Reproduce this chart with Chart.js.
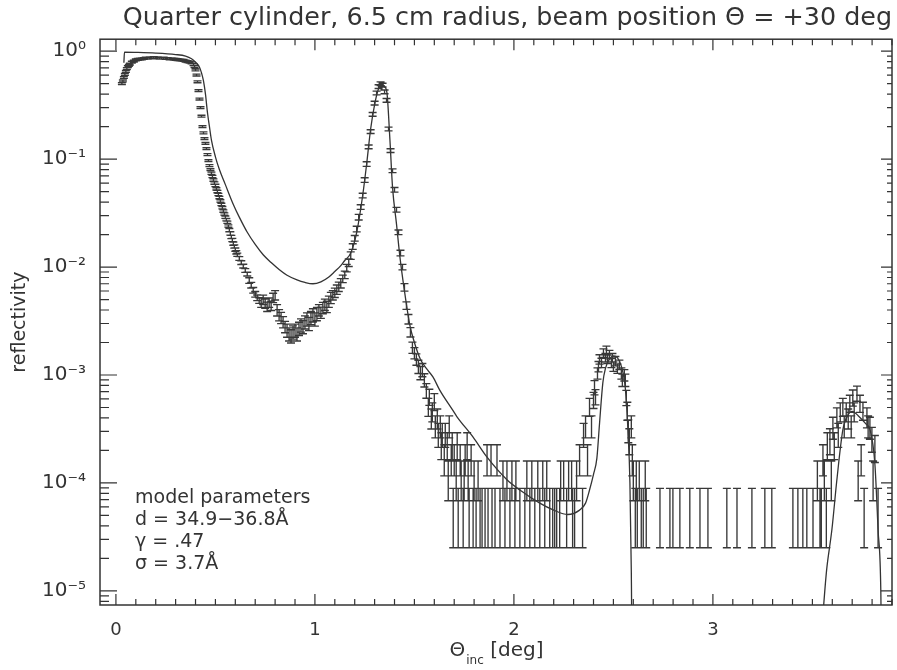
<!DOCTYPE html>
<html><head><meta charset="utf-8">
<style>html,body{margin:0;padding:0;background:#fff;}#wrap{width:897px;height:670px;}</style>
<script src="https://cdn.jsdelivr.net/npm/chart.js@4.4.0/dist/chart.umd.min.js"></script>
</head><body><div id="wrap"><canvas id="c" width="897" height="670"></canvas></div>
<script>
// ---- measured data (incidence angle in deg, reflectivity, relative error) ----
const thetaData = [
 // plateau
 0.030,0.035,0.040,0.045,0.050,0.055,0.060,0.065,0.070,0.080,
 0.090,0.100,0.110,0.120,0.130,0.140,0.150,0.160,0.170,0.180,
 0.190,0.200,0.210,0.220,0.230,0.240,0.250,0.260,0.270,0.280,
 0.290,0.300,0.310,0.320,0.330,0.340,0.350,0.360,0.370,0.380,
 0.390,0.395,
 // fall
 0.400,0.405,0.410,0.415,0.420,0.425,0.430,0.435,0.440,0.445,
 0.450,0.455,0.460,0.465,0.470,0.475,0.480,0.485,0.490,0.495,
 0.500,0.505,0.510,0.515,0.520,0.525,0.530,0.535,0.540,0.545,
 0.550,0.555,0.560,0.565,0.570,0.575,0.580,0.585,0.590,0.595,
 0.600,0.605,0.610,
 // minimum and first Bragg peak
 0.62,0.63,0.64,0.65,0.66,0.67,0.68,0.69,0.70,0.71,
 0.72,0.73,0.74,0.75,0.76,0.77,0.78,0.79,0.80,0.81,
 0.82,0.83,0.84,0.85,0.86,0.87,0.88,0.89,0.90,0.91,
 0.92,0.93,0.94,0.95,0.96,0.97,0.98,0.99,1.00,1.01,
 1.02,1.03,1.04,1.05,1.06,1.07,1.08,1.09,1.10,1.11,
 1.12,1.13,1.14,1.15,1.16,1.17,1.18,1.19,1.20,1.21,
 1.22,1.23,1.24,1.25,1.26,1.27,1.28,1.29,1.30,1.31,
 1.32,1.33,1.34,1.35,1.36,1.37,1.38,1.39,1.40,1.41,
 1.42,1.43,1.44,1.45,1.46,1.47,1.48,1.49,1.50,1.51,
 1.52,1.53,1.54,1.55,
 // tail and second peak
 1.560,1.570,1.575,1.585,1.590,1.600,1.605,1.615,1.620,1.630,
 1.635,1.640,1.650,1.655,1.665,1.670,1.675,1.685,1.690,1.695,
 1.700,1.710,1.715,1.720,1.730,1.735,1.745,1.750,1.755,1.765,
 1.770,1.775,1.785,1.795,1.800,1.810,1.820,1.830,1.840,1.855,
 1.865,1.870,1.885,1.890,1.905,1.915,1.930,1.945,1.955,1.965,
 1.980,1.990,2.005,2.010,2.030,2.055,2.065,2.080,2.090,2.105,
 2.120,2.130,2.145,2.155,2.165,2.180,2.195,2.205,2.215,2.230,
 2.235,2.250,2.265,2.275,2.290,2.295,2.305,2.315,2.330,2.345,
 2.350,2.360,2.370,2.380,2.390,2.400,2.405,2.410,2.420,2.425,
 2.430,2.440,2.450,2.460,2.465,2.470,2.480,2.490,2.495,2.500,
 2.510,2.520,2.530,2.540,2.545,2.555,2.560,2.565,2.570,2.575,
 2.580,2.590,2.595,2.600,2.610,2.615,2.620,2.630,2.640,2.650,
 // background
 2.660,2.665,2.734,2.784,2.799,2.834,2.884,2.935,2.975,3.070,
 3.121,3.196,3.261,3.296,3.402,3.427,3.452,3.472,3.503,3.538,
 // third peak
 3.525,3.545,3.553,3.560,3.570,3.575,3.588,3.595,3.603,3.610,
 3.623,3.630,3.640,3.653,3.660,3.670,3.680,3.688,3.695,3.703,
 3.710,3.724,3.730,3.739,3.745,3.754,3.760,3.774,3.780,3.789,
 3.799,3.805,3.814,3.830
];
const reflData = [
 0.50,0.53,0.57,0.61,0.65,0.69,0.72,0.74,0.76,0.79,
 0.81,0.83,0.84,0.845,0.85,0.855,0.86,0.86,0.865,0.865,
 0.87,0.865,0.865,0.86,0.86,0.86,0.855,0.855,0.85,0.85,
 0.845,0.84,0.835,0.83,0.825,0.82,0.81,0.80,0.79,0.78,
 0.75,0.72,
 0.67,0.60,0.52,0.43,0.36,0.30,0.25,0.20,0.175,0.155,
 0.14,0.125,0.11,0.097,0.087,0.080,0.074,0.069,0.064,0.060,
 0.057,0.053,0.050,0.047,0.044,0.041,0.038,0.0355,0.033,0.031,
 0.029,0.0275,0.026,0.024,0.022,0.0205,0.019,0.0178,0.0165,0.0155,
 0.0145,0.0137,0.0130,
 0.0120,0.0110,0.0102,0.0093,0.0086,0.0075,0.0068,0.0061,0.0056,0.0052,
 0.0049,0.0047,0.0050,0.0046,0.0043,0.0047,0.0044,0.0052,0.0055,0.0040,
 0.0036,0.0034,0.0031,0.0028,0.0026,0.0024,0.0023,0.0025,0.0026,0.0024,
 0.0027,0.0029,0.0028,0.0031,0.0033,0.0030,0.0034,0.0036,0.0033,0.0037,
 0.0040,0.0038,0.0042,0.0045,0.0043,0.0048,0.0052,0.0055,0.0058,0.0062,
 0.0066,0.0071,0.0078,0.0085,0.0098,0.0110,0.0128,0.0155,0.0185,0.0225,
 0.029,0.036,0.046,0.064,0.090,0.130,0.180,0.260,0.330,0.410,
 0.470,0.500,0.485,0.420,0.350,0.190,0.120,0.078,0.052,0.034,
 0.021,0.0135,0.0100,0.0065,0.0044,0.0033,0.0025,0.0018,0.0016,0.0014,
 0.0012,0.00105,0.00112,0.00090,
 7.2e-4,5.1e-4,6.3e-4,4.0e-4,4.6e-4,5.7e-4,3.4e-4,4.0e-4,2.85e-4,3.4e-4,
 2.28e-4,2.85e-4,1.71e-4,2.85e-4,2.28e-4,1.14e-4,3.4e-4,1.71e-4,2.28e-4,5.7e-5,
 1.71e-4,1.14e-4,2.28e-4,5.7e-5,1.71e-4,1.14e-4,5.7e-5,1.14e-4,1.71e-4,2.28e-4,
 1.14e-4,5.7e-5,1.71e-4,5.7e-5,1.14e-4,5.7e-5,1.14e-4,5.7e-5,5.7e-5,5.7e-5,
 1.71e-4,5.7e-5,1.71e-4,5.7e-5,5.7e-5,1.71e-4,5.7e-5,1.14e-4,5.7e-5,1.14e-4,
 5.7e-5,1.14e-4,5.7e-5,1.14e-4,5.7e-5,5.7e-5,1.14e-4,5.7e-5,1.14e-4,5.7e-5,
 1.14e-4,5.7e-5,1.14e-4,5.7e-5,1.14e-4,5.7e-5,5.7e-5,5.7e-5,5.7e-5,5.7e-5,
 1.14e-4,1.14e-4,5.7e-5,1.14e-4,1.14e-4,5.7e-5,5.7e-5,1.14e-4,1.71e-4,5.7e-5,
 2.85e-4,3.4e-4,1.71e-4,5.1e-4,3.4e-4,5.9e-4,7.7e-4,6.3e-4,1.04e-3,1.2e-3,
 1.4e-3,1.3e-3,1.6e-3,1.45e-3,1.7e-3,1.4e-3,1.55e-3,1.3e-3,1.45e-3,1.2e-3,
 1.35e-3,1.15e-3,1.25e-3,1.04e-3,9.0e-4,1.0e-3,9.0e-4,6.2e-4,4.7e-4,3.1e-4,
 2.5e-4,3.4e-4,1.71e-4,1.14e-4,5.7e-5,1.14e-4,5.7e-5,1.14e-4,5.7e-5,5.7e-5,
 1.14e-4,5.7e-5,5.7e-5,5.7e-5,5.7e-5,5.7e-5,5.7e-5,5.7e-5,5.7e-5,5.7e-5,
 5.7e-5,5.7e-5,5.7e-5,5.7e-5,5.7e-5,5.7e-5,5.7e-5,5.7e-5,5.7e-5,5.7e-5,
 1.14e-4,5.7e-5,1.71e-4,1.14e-4,5.7e-5,2.28e-4,2.5e-4,1.14e-4,3.3e-4,2.28e-4,
 4.1e-4,2.85e-4,4.6e-4,5.1e-4,3.4e-4,4.6e-4,4.0e-4,5.5e-4,3.4e-4,6.2e-4,
 4.6e-4,6.8e-4,1.14e-4,5.5e-4,1.71e-4,4.7e-4,5.7e-5,4.1e-4,3.4e-4,3.3e-4,
 2.6e-4,1.14e-4,2.15e-4,5.7e-5
];
const relErr = [
 0.02,0.02,0.02,0.02,0.02,0.02,0.02,0.02,0.02,0.02,
 0.02,0.02,0.02,0.02,0.02,0.02,0.02,0.02,0.02,0.02,
 0.02,0.02,0.02,0.02,0.02,0.02,0.02,0.02,0.02,0.02,
 0.02,0.02,0.02,0.02,0.02,0.02,0.02,0.02,0.02,0.02,
 0.02,0.02,
 0.02,0.02,0.02,0.02,0.02,0.02,0.02,0.02,0.02,0.02,
 0.02,0.02,0.02,0.02,0.02,0.02,0.025,0.025,0.025,0.025,
 0.025,0.025,0.025,0.025,0.025,0.025,0.025,0.025,0.025,0.025,
 0.025,0.025,0.025,0.025,0.035,0.035,0.035,0.035,0.035,0.035,
 0.035,0.035,0.035,
 0.04,0.04,0.04,0.04,0.04,0.06,0.06,0.06,0.06,0.06,
 0.06,0.10,0.10,0.10,0.10,0.10,0.10,0.10,0.10,0.12,
 0.12,0.12,0.12,0.12,0.14,0.14,0.14,0.14,0.14,0.14,
 0.14,0.14,0.14,0.14,0.14,0.14,0.14,0.14,0.14,0.14,
 0.12,0.12,0.12,0.12,0.12,0.12,0.12,0.10,0.10,0.10,
 0.10,0.10,0.08,0.08,0.08,0.08,0.08,0.06,0.06,0.06,
 0.06,0.05,0.05,0.05,0.05,0.04,0.04,0.04,0.04,0.04,
 0.04,0.04,0.04,0.04,0.04,0.04,0.04,0.04,0.05,0.05,
 0.05,0.06,0.06,0.08,0.08,0.10,0.10,0.12,0.12,0.12,
 0.14,0.14,0.14,0.14,
 0.155,0.19,0.17,0.21,0.20,0.18,0.23,0.21,0.25,0.23,
 0.28,0.25,0.32,0.25,0.28,0.40,0.23,0.32,0.28,0.56,
 0.32,0.40,0.28,0.56,0.32,0.40,0.56,0.40,0.32,0.28,
 0.40,0.56,0.32,0.56,0.40,0.56,0.40,0.56,0.56,0.56,
 0.32,0.56,0.32,0.56,0.56,0.32,0.56,0.40,0.56,0.40,
 0.56,0.40,0.56,0.40,0.56,0.56,0.40,0.56,0.40,0.56,
 0.40,0.56,0.40,0.56,0.40,0.56,0.56,0.56,0.56,0.56,
 0.40,0.40,0.56,0.40,0.40,0.56,0.56,0.40,0.32,0.56,
 0.25,0.23,0.32,0.19,0.23,0.17,0.15,0.16,0.12,0.11,
 0.10,0.10,0.09,0.09,0.09,0.09,0.09,0.10,0.09,0.10,
 0.10,0.10,0.10,0.12,0.13,0.12,0.13,0.16,0.19,0.24,
 0.27,0.23,0.32,0.40,0.56,0.40,0.56,0.40,0.56,0.56,
 0.40,0.56,0.56,0.56,0.56,0.56,0.56,0.56,0.56,0.56,
 0.56,0.56,0.56,0.56,0.56,0.56,0.56,0.56,0.56,0.56,
 0.40,0.56,0.32,0.40,0.56,0.28,0.27,0.40,0.23,0.28,
 0.21,0.25,0.20,0.19,0.23,0.20,0.21,0.18,0.23,0.17,
 0.20,0.16,0.40,0.18,0.32,0.19,0.56,0.21,0.23,0.23,
 0.26,0.40,0.28,0.56
];
// ---- model curve ----
const modelTheta = [
 0.040,0.043,0.100,0.200,0.300,0.350,0.380,0.400,0.420,0.430,
 0.440,0.450,0.460,0.470,0.480,0.500,0.520,0.550,0.590,0.620,
 0.660,0.700,0.740,0.780,0.820,0.860,0.910,0.950,0.990,1.030,
 1.070,1.100,1.130,1.150,1.180,1.210,1.240,1.260,1.280,1.300,
 1.320,1.335,1.350,1.362,1.377,1.390,1.410,1.427,1.450,1.477,
 1.500,1.530,1.560,1.593,1.628,1.690,1.714,1.794,1.864,1.965,
 2.030,2.130,2.200,2.270,2.330,2.360,2.380,2.400,2.417,2.430,
 2.447,2.460,2.480,2.500,2.520,2.540,2.560,2.573,2.583,2.590,
 2.600,3.530,3.573,3.598,3.623,3.653,3.680,3.700,3.730,
 3.770,3.790,3.814,3.830,3.844,3.855
];
const modelRefl = [
 0.78,0.98,0.975,0.96,0.93,0.90,0.85,0.79,0.71,0.63,
 0.53,0.40,0.27,0.20,0.15,0.105,0.080,0.058,0.038,0.029,
 0.021,0.0162,0.0130,0.0110,0.0095,0.0084,0.0076,0.0072,0.0070,0.0073,
 0.0081,0.0091,0.0103,0.0115,0.0135,0.021,0.046,0.090,0.19,0.32,
 0.45,0.50,0.47,0.41,0.15,0.055,0.025,0.0125,0.0060,0.0029,
 0.0020,0.0014,0.00115,0.00096,0.00072,0.00048,0.00041,0.000267,0.000174,0.000107,
 0.000086,0.000065,0.000056,0.000051,0.000056,0.000065,0.000086,0.000120,0.000170,0.000350,
 0.000850,0.00115,0.00140,0.00150,0.00145,0.00120,0.00075,0.00031,0.00010,0.000015,
 1e-7,2.5e-6,1.66e-5,3.7e-5,1.07e-4,3.1e-4,4.3e-4,4.6e-4,4.2e-4,
 3.5e-4,3.1e-4,1.5e-4,3.7e-5,9.5e-6,1e-7
];
const xTickValues = [0, 1, 2, 3];
const xTickLabels = ['0', '1', '2', '3'];
const yTickValues = [1e-5, 1e-4, 1e-3, 1e-2, 1e-1, 1];
const yTickLabels = ['10⁻⁵', '10⁻⁴', '10⁻³', '10⁻²', '10⁻¹', '10⁰'];
const titleText = 'Quarter cylinder, 6.5 cm radius, beam position Θ = +30 deg';
const yTitle = 'reflectivity';
const annotationLines = ['model parameters', 'd = 34.9−36.8Å', 'γ = .47', 'σ = 3.7Å'];

const FONT = '"DejaVu Sans", sans-serif';
const INK = '#333';

const errorBars = {
  id: 'errorBars',
  afterDatasetsDraw(chart) {
    const {ctx, chartArea: a, scales: {x, y}} = chart;
    ctx.save();
    ctx.beginPath(); ctx.rect(a.left, a.top, a.right - a.left, a.bottom - a.top); ctx.clip();
    ctx.strokeStyle = '#383838'; ctx.lineWidth = 1.35;
    ctx.beginPath();
    for (let i = 0; i < thetaData.length; i++) {
      const px = x.getPixelForValue(thetaData[i]);
      const lo = y.getPixelForValue(reflData[i] * (1 - relErr[i]));
      const hi = y.getPixelForValue(reflData[i] * (1 + relErr[i]));
      ctx.moveTo(px, lo); ctx.lineTo(px, hi);
      ctx.moveTo(px - 4, lo); ctx.lineTo(px + 4, lo);
      ctx.moveTo(px - 4, hi); ctx.lineTo(px + 4, hi);
    }
    ctx.stroke();
    ctx.restore();
  }
};

const frame = {
  id: 'frame',
  afterDraw(chart) {
    const {ctx, chartArea: a, scales: {x, y}} = chart;
    ctx.save();
    ctx.strokeStyle = INK; ctx.lineWidth = 1.5;
    ctx.strokeRect(a.left, a.top, a.right - a.left, a.bottom - a.top);
    ctx.lineWidth = 1.2;
    ctx.beginPath();
    for (let i = 0; i <= 39; i++) {
      const px = x.getPixelForValue(i / 10);
      if (px < a.left || px > a.right) continue;
      const L = (i % 10 === 0) ? 11 : 6;
      ctx.moveTo(px, a.bottom); ctx.lineTo(px, a.bottom - L);
      ctx.moveTo(px, a.top); ctx.lineTo(px, a.top + L);
    }
    for (let e = -6; e <= 0; e++) {
      for (let m = 1; m <= 9; m++) {
        const v = m * Math.pow(10, e);
        if (v < y.min || v > y.max) continue;
        const py = y.getPixelForValue(v);
        const major = m === 1;
        ctx.moveTo(a.left, py); ctx.lineTo(a.left + (major ? 17 : 9), py);
        ctx.moveTo(a.right, py); ctx.lineTo(a.right - (major ? 11 : 5), py);
      }
    }
    ctx.stroke();
    // annotation
    ctx.fillStyle = INK;
    ctx.font = '19px ' + FONT;
    ctx.textAlign = 'left'; ctx.textBaseline = 'alphabetic';
    annotationLines.forEach((t, i) => ctx.fillText(t, 135, 503 + i * 22));
    // x axis title with subscript
    const big = '20px ' + FONT, small = '12px ' + FONT;
    ctx.font = big; const w1 = ctx.measureText('Θ').width;
    const w3 = ctx.measureText(' [deg]').width;
    ctx.font = small; const w2 = ctx.measureText('inc').width;
    let sx = (a.left + a.right) / 2 - (w1 + w2 + w3) / 2;
    const base = 656;
    ctx.font = big; ctx.fillText('Θ', sx, base); sx += w1 + 1;
    ctx.font = small; ctx.fillText('inc', sx, base + 8); sx += w2;
    ctx.font = big; ctx.fillText(' [deg]', sx, base);
    ctx.restore();
  }
};

new Chart(document.getElementById('c'), {
  type: 'scatter',
  data: {
    datasets: [
      { label: 'data', data: thetaData.map((t, i) => ({x: t, y: reflData[i]})),
        pointRadius: 0, showLine: false },
      { label: 'model', data: modelTheta.map((t, i) => ({x: t, y: modelRefl[i]})),
        showLine: true, pointRadius: 0, borderColor: INK, borderWidth: 1.3,
        cubicInterpolationMode: 'monotone', fill: false }
    ]
  },
  options: {
    responsive: false, animation: false, devicePixelRatio: 1,
    layout: { padding: { left: 0, right: 5, top: 0, bottom: 0 } },
    plugins: {
      legend: { display: false }, tooltip: { enabled: false },
      title: { display: true, text: titleText, align: 'end', color: INK,
        font: { family: FONT, size: 25.4, weight: 'normal', lineHeight: 1.15 },
        padding: { top: 4, bottom: 6 } }
    },
    scales: {
      x: { type: 'linear', min: -0.08, max: 3.9,
        grid: { display: false }, border: { display: false },
        afterBuildTicks: s => { s.ticks = xTickValues.map(v => ({value: v})); },
        afterFit: s => { s.height = 65; },
        ticks: { autoSkip: false, maxRotation: 0, padding: 7, color: INK,
          font: { family: FONT, size: 18 },
          callback: (v, i) => xTickLabels[i] } },
      y: { type: 'logarithmic', min: 7.4e-6, max: 1.29,
        grid: { display: false }, border: { display: false },
        afterBuildTicks: s => { s.ticks = yTickValues.map(v => ({value: v, major: true})); },
        afterFit: s => { s.width = 100; },
        title: { display: true, text: yTitle, color: INK,
          font: { family: FONT, size: 19, weight: 'normal', lineHeight: 1.2 }, padding: { top: 9, bottom: 0 } },
        ticks: { autoSkip: false, padding: 6, color: INK,
          font: { family: FONT, size: 20 },
          callback: (v, i) => yTickLabels[i] } }
    }
  },
  plugins: [errorBars, frame]
});
</script>
</body></html>
